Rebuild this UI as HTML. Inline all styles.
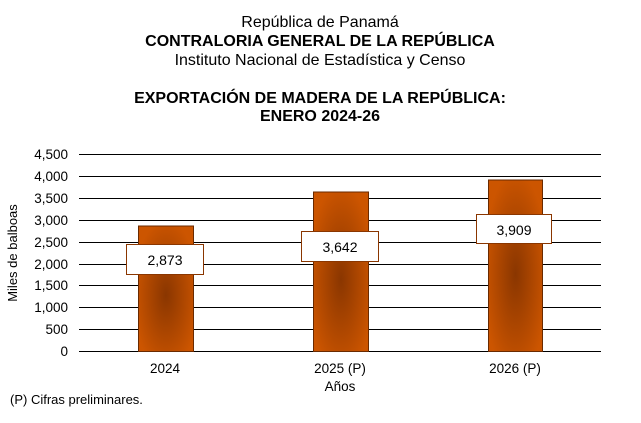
<!DOCTYPE html><html><head><meta charset="utf-8"><style>
body{margin:0;width:641px;height:418px;background:#fff;font-family:"Liberation Sans",Arial,sans-serif;}
</style></head><body>
<svg width="641" height="418" xmlns="http://www.w3.org/2000/svg" font-family="Liberation Sans, Arial, sans-serif">
<defs><radialGradient id="g" cx="0.5" cy="0.55" r="0.6" gradientUnits="objectBoundingBox">
<stop offset="0" stop-color="#8a3600"/><stop offset="1" stop-color="#cc5500"/></radialGradient></defs>
<g text-anchor="middle" font-size="16">
<text x="320" y="27">República de Panamá</text>
<text x="320" y="46" font-weight="bold">CONTRALORIA GENERAL DE LA REPÚBLICA</text>
<text x="320" y="65">Instituto  Nacional de Estadística y Censo</text>
<text x="320" y="103" font-weight="bold">EXPORTACIÓN DE MADERA DE LA REPÚBLICA:</text>
<text x="320" y="121" font-weight="bold">ENERO 2024-26</text>
</g>
<g stroke="#000" stroke-width="1">
<line x1="79" x2="601" y1="154.5" y2="154.5"/><line x1="79" x2="601" y1="176.5" y2="176.5"/>
<line x1="79" x2="601" y1="198.5" y2="198.5"/><line x1="79" x2="601" y1="220.5" y2="220.5"/>
<line x1="79" x2="601" y1="242.5" y2="242.5"/><line x1="79" x2="601" y1="264.5" y2="264.5"/>
<line x1="79" x2="601" y1="285.5" y2="285.5"/><line x1="79" x2="601" y1="307.5" y2="307.5"/>
<line x1="79" x2="601" y1="329.5" y2="329.5"/><line x1="79" x2="601" y1="351.5" y2="351.5"/>
</g>
<g font-size="13.5" text-anchor="end">
<text x="68" y="159">4,500</text><text x="68" y="181">4,000</text><text x="68" y="203">3,500</text>
<text x="68" y="225">3,000</text><text x="68" y="247">2,500</text><text x="68" y="269">2,000</text>
<text x="68" y="290">1,500</text><text x="68" y="312">1,000</text><text x="68" y="334">500</text><text x="68" y="356">0</text>
</g>
<g stroke="#6a2a00" stroke-width="1">
<rect x="138.5" y="226" width="55" height="125.5" fill="url(#g)"/>
<rect x="313.5" y="192" width="55" height="159.5" fill="url(#g)"/>
<rect x="488.5" y="180" width="54" height="171.5" fill="url(#g)"/>
</g>
<g fill="#fff" stroke="#8a3600">
<rect x="126.5" y="244.5" width="77" height="30"/>
<rect x="301.5" y="231.5" width="77" height="30"/>
<rect x="476.5" y="214.5" width="75" height="29"/>
</g>
<g font-size="14" text-anchor="middle">
<text x="165" y="265">2,873</text><text x="340" y="252">3,642</text><text x="514" y="235">3,909</text>
</g>
<g font-size="13.5" text-anchor="middle">
<text x="165" y="373">2024</text><text x="340" y="373">2025 (P)</text><text x="515" y="373">2026 (P)</text>
<text x="340" y="391">Años</text>
<text transform="translate(17,253) rotate(-90)" font-size="13">Miles de balboas</text>
</g>
<text x="10" y="404" font-size="13">(P) Cifras  preliminares.</text>
</svg>
</body></html>
